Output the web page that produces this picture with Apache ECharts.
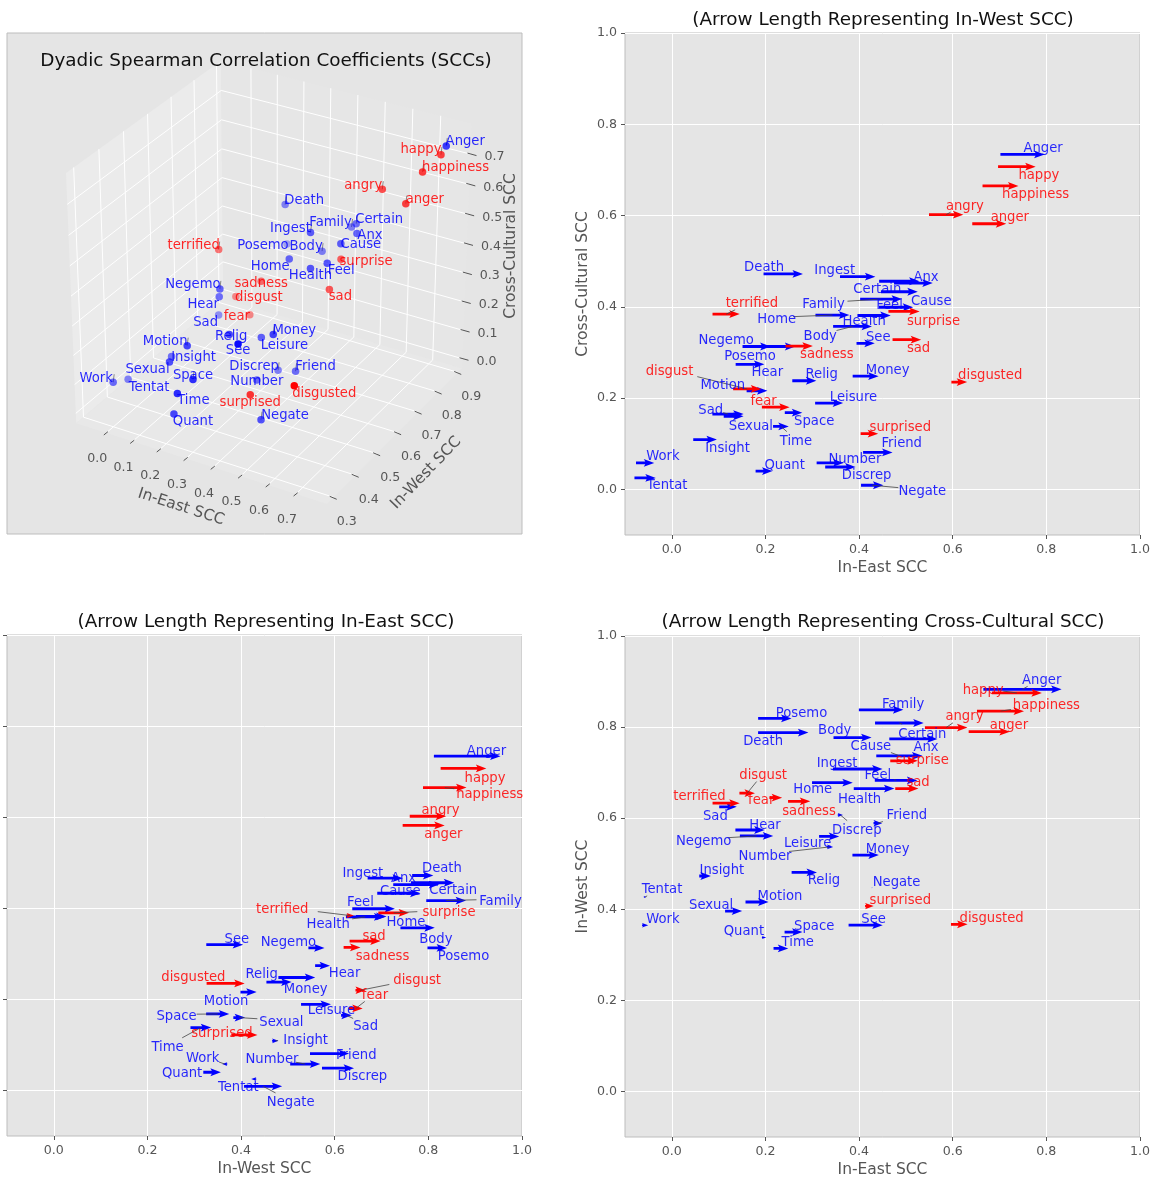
<!DOCTYPE html>
<html><head><meta charset="utf-8">
<script src="https://cdn.jsdelivr.net/npm/echarts@6/dist/echarts.min.js"></script>
<style>html,body{margin:0;padding:0;background:#fff}#c{width:1156px;height:1182px}</style></head>
<body><div id="c"></div>
<script>
// ---------- data ----------
const blueWords = ['Anger','Death','Ingest','Anx','Certain','Cause','Family','Feel','Home','Health','Body','See','Negemo','Posemo','Hear','Relig','Money','Motion','Leisure','Sad','Space','Sexual','Time','Insight','Work','Tentat','Quant','Number','Discrep','Friend','Negate'];
const blueEast  = [.749,.238,.397,.516,.486,.486,.447,.479,.343,.432,.386,.414,.181,.22,.167,.283,.414,.182,.336,.12,.26,.132,.233,.071,-.057,-.057,.197,.338,.36,.44,.428];
const blueWest  = [.883,.788,.708,.774,.809,.737,.838,.683,.678,.665,.777,.365,.561,.819,.574,.481,.519,.416,.56,.625,.35,.396,.314,.473,.365,.427,.338,.537,.607,.589,.447];
const blueCross = [.734,.472,.466,.452,.456,.433,.417,.399,.382,.381,.357,.32,.313,.313,.274,.238,.248,.216,.189,.165,.168,.16,.138,.109,.058,.025,.04,.058,.049,.081,.009];
const redWords = ['happy','happiness','angry','anger','terrified','surprise','sad','sadness','disgust','fear','disgusted','surprised'];
const redEast  = [.737,.702,.586,.678,.116,.496,.502,.272,.161,.222,.614,.422];
const redWest  = [.875,.835,.799,.79,.633,.726,.665,.637,.655,.645,.367,.407];
const redCross = [.707,.665,.602,.582,.384,.39,.328,.314,.22,.18,.235,.122];
const tickValues = [0,.2,.4,.6,.8,1];
const ticks3dEast = [0,.1,.2,.3,.4,.5,.6,.7];
const ticks3dWest = [.3,.4,.5,.6,.7,.8,.9];
const ticks3dCross = [0,.1,.2,.3,.4,.5,.6,.7];

// ---------- label layout (in each panel's axis units) ----------
const labelsP2 = {Negate:[.535,-.001],Discrep:[.416,.034],Number:[.391,.069],Quant:[.241,.056],Tentat:[-.01,.012],Work:[-.019,.076],Insight:[.119,.093],Friend:[.491,.105],surprised:[.488,.139],Time:[.265,.109],Sexual:[.169,.142],Sad:[.083,.176],Space:[.304,.153],fear:[.196,.196],Leisure:[.388,.206],Motion:[.109,.231],disgust:[-.005,.262],Hear:[.204,.261],Relig:[.32,.255],Money:[.461,.265],disgusted:[.68,.253],Posemo:[.167,.296],sadness:[.331,.30],Negemo:[.116,.331],Body:[.317,.339],See:[.441,.336],sad:[.527,.312],surprise:[.559,.372],Health:[.411,.371],Home:[.224,.377],terrified:[.171,.411],Family:[.324,.409],Feel:[.465,.407],Cause:[.554,.415],Certain:[.439,.443],Anx:[.543,.468],Ingest:[.348,.484],Death:[.197,.49],anger:[.722,.599],angry:[.626,.625],happiness:[.777,.65],happy:[.784,.691],Anger:[.793,.752]};
const labelsP3 = {See:[.391,.335],Negemo:[.501,.33],sad:[.684,.342],sadness:[.702,.299],Body:[.816,.335],Posemo:[.875,.298],Hear:[.621,.262],Relig:[.444,.258],disgusted:[.298,.253],Money:[.538,.226],disgust:[.776,.245],fear:[.686,.213],Motion:[.368,.2],Leisure:[.593,.18],Space:[.262,.167],Sexual:[.486,.154],Sad:[.666,.145],surprised:[.359,.129],Time:[.243,.098],Insight:[.538,.114],Friend:[.646,.08],Work:[.318,.075],Number:[.466,.072],Quant:[.274,.041],Discrep:[.659,.034],Tentat:[.394,.01],Negate:[.506,-.023],Anger:[.924,.748],happy:[.921,.689],happiness:[.931,.653],angry:[.826,.618],anger:[.832,.566],Death:[.829,.491],Ingest:[.66,.481],Anx:[.747,.469],Cause:[.74,.442],Certain:[.853,.443],Feel:[.655,.418],Family:[.954,.42],terrified:[.488,.402],surprise:[.844,.396],Health:[.586,.369],Home:[.752,.374]};
const labelsP4 = {Anger:[.79,.907],happy:[.665,.885],happiness:[.80,.851],Family:[.494,.854],Posemo:[.277,.835],angry:[.625,.827],anger:[.72,.807],Body:[.348,.796],Certain:[.535,.789],Death:[.195,.773],Anx:[.543,.76],Cause:[.425,.761],surprise:[.535,.73],Ingest:[.353,.724],Feel:[.44,.697],sad:[.526,.682],disgust:[.195,.698],Home:[.301,.667],Health:[.401,.645],fear:[.191,.644],sadness:[.293,.618],terrified:[.059,.651],Sad:[.093,.609],Friend:[.502,.61],Discrep:[.395,.577],Hear:[.199,.589],Negemo:[.068,.554],Leisure:[.29,.549],Number:[.199,.521],Money:[.461,.536],Insight:[.107,.489],Relig:[.325,.467],Negate:[.48,.464],Tentat:[-.021,.447],Motion:[.231,.432],surprised:[.488,.424],Sexual:[.084,.413],See:[.431,.382],disgusted:[.683,.384],Work:[-.019,.381],Space:[.304,.367],Quant:[.154,.355],Time:[.269,.331]};
const connP2 = ['terrified','Family','Home','Body','disgust','Sexual','Time','Number','Negate','Certain','fear','angry','Sad','Health','Feel'];
const connP3 = ['terrified','Family','surprise','Health','Space','Sexual','Time','surprised','Negate','disgust','fear','Sad','Insight','Work','Number','Tentat','happiness'];
const connP4 = ['Anger','happy','disgust','Discrep','Friend','Negemo','Leisure','Number','Tentat','Quant','angry','Certain','Cause','happiness','surprise','Feel'];
const labels3d = {Anger:[19,-6],happy:[-20,-7],happiness:[33,-7],angry:[-19,-6],anger:[19,-6],Death:[19,-6],Certain:[23,-6],Family:[-21,-6],Ingest:[-20,-6],Anx:[13,0],Cause:[20,-1],Body:[-16,-7],Posemo:[-24,0],terrified:[-25,-6],surprise:[25,0],Home:[-19,6],Feel:[14,5],Health:[0,5],Negemo:[-27,-6],sadness:[0,0],disgust:[23,-1],sad:[11,5],Hear:[-16,6],fear:[-13,0],Sad:[-13,6],Money:[21,-6],Leisure:[23,6],Relig:[2,0],Motion:[-22,-6],See:[0,5],Insight:[22,-1],Sexual:[-22,6],Space:[0,-6],Work:[-17,-6],Tentat:[21,6],Discrep:[-24,-6],Friend:[20,-7],Number:[0,0],disgusted:[30,6],Time:[16,5],surprised:[0,6],Quant:[19,6],Negate:[24,-6]};
const ticks3dWords = ['Anger','happy','happiness','angry','anger','Death','Certain','Family','Ingest','Body','terrified','Negemo','Money','Motion','Work','Discrep','Friend','Negate','Space'];

// ---------- styles ----------
const FONT = '"DejaVu Sans"';
const BLUE_TXT = 'rgba(0,0,255,.84)', RED_TXT = 'rgba(255,0,0,.84)';
const LSIZE = 13.2, LABEL_DY = 2, TICK = '#555555', TICKSIZE = 12.6;
const scales = {p2:{blue:50,red:43}, p3:{blue:89,red:62}, p4:{blue:106.6,red:70.7}};
const panels = {
  p1:{left:7,top:33,width:515,height:501},
  p2:{left:625,top:33,width:515,height:502},
  p3:{left:7,top:635,width:515,height:501},
  p4:{left:625,top:636,width:515,height:501}
};

// ---------- mplot3d projection ----------
const limE=[-.115,.81], limW=[.27,.92], limC=[-.035,.80];
const elev=30*Math.PI/180, azim=-60*Math.PI/180, dist=10;
const eye=[.5+Math.cos(azim)*Math.cos(elev)*dist,.5+Math.sin(azim)*Math.cos(elev)*dist,.5+Math.sin(elev)*dist];
const nrm=v=>{const l=Math.hypot(...v);return v.map(a=>a/l)};
const cross3=(a,b)=>[a[1]*b[2]-a[2]*b[1],a[2]*b[0]-a[0]*b[2],a[0]*b[1]-a[1]*b[0]];
const dot3=(a,b)=>a[0]*b[0]+a[1]*b[1]+a[2]*b[2];
const vn=nrm([eye[0]-.5,eye[1]-.5,eye[2]-.5]), vu=nrm(cross3([0,0,1],vn)), vv=cross3(vn,vu);
function proj(e,w,c){
  const p=[(e-limE[0])/(limE[1]-limE[0])-eye[0],(w-limW[0])/(limW[1]-limW[0])-eye[1],(c-limC[0])/(limC[1]-limC[0])-eye[2]];
  const d=-dot3(p,vn);
  return [dot3(p,vu)/d,dot3(p,vv)/d,d];
}
// pixel anchors of two box corners fix the hidden axes' ranges
const pE=proj(limE[0],limW[0],limC[1]), pB=proj(limE[1],limW[0],limC[0]);
const anchorE=[66,173], anchorB=[327,504];
const sx=(anchorB[0]-anchorE[0])/(pB[0]-pE[0]), sy=(anchorB[1]-anchorE[1])/(pE[1]-pB[1]);
const x3min=pE[0]+(panels.p1.left-anchorE[0])/sx, x3max=x3min+panels.p1.width/sx;
const y3max=pE[1]+(anchorE[1]-panels.p1.top)/sy, y3min=y3max-panels.p1.height/sy;

const allWords=blueWords.concat(redWords), allEast=blueEast.concat(redEast), allWest=blueWest.concat(redWest), allCross=blueCross.concat(redCross);
const isRed=i=>i>=blueWords.length;
const pts3=allWords.map((n,i)=>proj(allEast[i],allWest[i],allCross[i]));
const dMin=Math.min(...pts3.map(p=>p[2])), dMax=Math.max(...pts3.map(p=>p[2]));

// ---------- helpers ----------
function arrowSeries(grid,words,xs,ys,lens,scale,color){
  return {type:'custom',xAxisIndex:grid,yAxisIndex:grid,silent:true,z:color==='#ff0000'?4:3,encode:{x:0,y:1},
    data:words.map((n,i)=>[xs[i],ys[i],lens[i]]),
    renderItem(p,api){
      const c=api.coord([api.value(0),api.value(1)]), L=api.value(2)*scale;
      const a=Math.abs(L), sg=L<0?-1:1, s=Math.min(1,a/10.5);
      const hl=10.5*s,hal=9*s,hw=3.9*s,sw=1.4*s;
      const pts=[[-a/2,-sw],[a/2-hal,-sw],[a/2-hl,-hw],[a/2,0],[a/2-hl,hw],[a/2-hal,sw],[-a/2,sw]].map(q=>[c[0]+sg*q[0],c[1]+q[1]]);
      return {type:'polygon',shape:{points:pts},style:{fill:color}};
    }};
}
function labelSeries(grid,table){
  const names=allWords.filter(n=>table[n]);
  return {type:'custom',xAxisIndex:grid,yAxisIndex:grid,silent:true,z:6,encode:{x:0,y:1},
    data:names.map(n=>[table[n][0],table[n][1]]),
    renderItem(p,api){
      const c=api.coord([api.value(0),api.value(1)]), n=names[p.dataIndex];
      return {type:'text',x:c[0],y:c[1]+LABEL_DY,style:{text:n,fill:isRed(allWords.indexOf(n))?RED_TXT:BLUE_TXT,font:LSIZE+'px '+FONT,align:'center',verticalAlign:'middle'}};
    }};
}
function connSeries(grid,table,names,xs,ys){
  return {type:'custom',xAxisIndex:grid,yAxisIndex:grid,silent:true,z:5,encode:{x:0,y:1},
    data:names.map(n=>{const i=allWords.indexOf(n);return [table[n][0],table[n][1],xs[i],ys[i]];}),
    renderItem(p,api){
      const a=api.coord([api.value(0),api.value(1)]), b=api.coord([api.value(2),api.value(3)]);
      const hw=names[p.dataIndex].length*LSIZE*.29+1, hh=8;
      const dx=b[0]-a[0], dy=b[1]-a[1];
      const t=Math.min(dx?hw/Math.abs(dx):9,dy?hh/Math.abs(dy):9);
      if(t>=1) return null;
      return {type:'line',shape:{x1:a[0]+dx*t,y1:a[1]+dy*t,x2:b[0],y2:b[1]},style:{stroke:'#444',lineWidth:.8}};
    }};
}
function axisPair(g,xName,yName,showY){
  return {
    x:{type:'value',gridIndex:g,min:-.1,max:1,name:xName,nameLocation:'middle',nameGap:25,
      nameTextStyle:{color:TICK,fontFamily:FONT,fontSize:15.5},
      axisLine:{show:false,onZero:false},axisTick:{customValues:tickValues,length:4,lineStyle:{color:TICK}},
      axisLabel:{customValues:tickValues,color:TICK,fontFamily:FONT,fontSize:TICKSIZE,margin:8,formatter:v=>v.toFixed(1)},
      splitLine:{show:true,lineStyle:{color:'#fff',width:1}}},
    y:{type:'value',gridIndex:g,min:-.1,max:1,name:yName,nameLocation:'middle',nameGap:34,
      nameTextStyle:{color:TICK,fontFamily:FONT,fontSize:15.5},
      axisLine:{show:false,onZero:false},axisTick:{customValues:tickValues,length:4,lineStyle:{color:TICK}},
      axisLabel:{show:showY,customValues:tickValues,color:TICK,fontFamily:FONT,fontSize:TICKSIZE,margin:8,formatter:v=>v.toFixed(1)},
      splitLine:{show:true,lineStyle:{color:'#fff',width:1}}}
  };
}

// ---------- 3D panel pieces ----------
function poly3(fill,corners){return {corners,fill};}
const walls=[
  poly3('#ebebeb',[[limE[0],limW[0],limC[0]],[limE[0],limW[1],limC[0]],[limE[0],limW[1],limC[1]],[limE[0],limW[0],limC[1]]]),
  poly3('#e6e6e6',[[limE[0],limW[1],limC[0]],[limE[1],limW[1],limC[0]],[limE[1],limW[1],limC[1]],[limE[0],limW[1],limC[1]]]),
  poly3('#e8e8e8',[[limE[0],limW[0],limC[0]],[limE[1],limW[0],limC[0]],[limE[1],limW[1],limC[0]],[limE[0],limW[1],limC[0]]])
];
const segs3=[];
ticks3dEast.forEach(e=>{segs3.push([[e,limW[0],limC[0]],[e,limW[1],limC[0]],[e,limW[1],limC[1]]]);});
ticks3dWest.forEach(w=>{segs3.push([[limE[1],w,limC[0]],[limE[0],w,limC[0]],[limE[0],w,limC[1]]]);});
ticks3dCross.forEach(c=>{segs3.push([[limE[0],limW[0],c],[limE[0],limW[1],c],[limE[1],limW[1],c]]);});
const tickMarks3=[];
ticks3dEast.forEach(v=>tickMarks3.push({p:[v,limW[0],limC[0]],d:[1.7,-1.3,-2.4,2],t:v.toFixed(1),o:[-9,26]}));
ticks3dWest.forEach(v=>tickMarks3.push({p:[limE[1],v,limC[0]],d:[-4,-1,3,2],t:v.toFixed(1),o:[13,24]}));
ticks3dCross.forEach(v=>tickMarks3.push({p:[limE[1],limW[1],v],d:[-3,-1,6,1.5],t:v.toFixed(1),o:[24,3]}));

const pa=axisPair(1,'In-East SCC','Cross-Cultural SCC',true),
      pb=axisPair(2,'In-West SCC','',false),
      pc=axisPair(3,'In-East SCC','In-West SCC',true);

const series=[
  {type:'custom',xAxisIndex:0,yAxisIndex:0,silent:true,z:1,data:walls.map((w,i)=>[i]),
   renderItem(p,api){const w=walls[p.dataIndex];return {type:'polygon',shape:{points:w.corners.map(q=>{const r=proj(...q);return api.coord([r[0],r[1]]);})},style:{fill:w.fill}};}},
  {type:'custom',xAxisIndex:0,yAxisIndex:0,silent:true,z:2,data:segs3.map((s,i)=>[i]),
   renderItem(p,api){const s=segs3[p.dataIndex];return {type:'polyline',shape:{points:s.map(q=>{const r=proj(...q);return api.coord([r[0],r[1]]);})},style:{stroke:'#fff',lineWidth:1,fill:null}};}},
  {type:'custom',xAxisIndex:0,yAxisIndex:0,silent:true,z:2,data:tickMarks3.map((s,i)=>[i]),
   renderItem(p,api){const m=tickMarks3[p.dataIndex],r=proj(...m.p),c=api.coord([r[0],r[1]]);
     return {type:'group',children:[
       {type:'line',shape:{x1:c[0]+m.d[0],y1:c[1]+m.d[1],x2:c[0]+m.d[2],y2:c[1]+m.d[3]},style:{stroke:TICK,lineWidth:1}},
       {type:'text',x:c[0]+m.o[0],y:c[1]+m.o[1],style:{text:m.t,fill:TICK,font:TICKSIZE+'px '+FONT,align:'center',verticalAlign:'middle'}}]};}},
  {type:'custom',xAxisIndex:0,yAxisIndex:0,silent:true,z:3,data:ticks3dWords.map((s,i)=>[i]),
   renderItem(p,api){const r=pts3[allWords.indexOf(ticks3dWords[p.dataIndex])],c=api.coord([r[0],r[1]]);
     return {type:'line',shape:{x1:c[0],y1:c[1],x2:c[0]+1,y2:c[1]-8},style:{stroke:'#888',lineWidth:1}};}},
  {type:'scatter',xAxisIndex:0,yAxisIndex:0,silent:true,z:4,symbolSize:7.5,
   data:allWords.map((n,i)=>({value:[pts3[i][0],pts3[i][1]],itemStyle:{color:isRed(i)?'#ff0000':'#0000ff',opacity:1-.7*(pts3[i][2]-dMin)/(dMax-dMin)}}))},
  {type:'custom',xAxisIndex:0,yAxisIndex:0,silent:true,z:6,data:allWords.filter(n=>labels3d[n]).map((n,i)=>[i]),
   renderItem(p,api){const i=p.dataIndex,n=allWords[i],r=pts3[i],c=api.coord([r[0],r[1]]),o=labels3d[n];
     return {type:'text',x:c[0]+o[0],y:c[1]+o[1]+LABEL_DY,style:{text:n,fill:isRed(i)?RED_TXT:BLUE_TXT,font:LSIZE+'px '+FONT,align:'center',verticalAlign:'middle'}};}},
  // panel 2: x east, y cross, length west
  arrowSeries(1,blueWords,blueEast,blueCross,blueWest,scales.p2.blue,'#0000ff'),
  arrowSeries(1,redWords,redEast,redCross,redWest,scales.p2.red,'#ff0000'),
  connSeries(1,labelsP2,connP2,allEast,allCross),
  labelSeries(1,labelsP2),
  // panel 3: x west, y cross, length east
  arrowSeries(2,blueWords,blueWest,blueCross,blueEast,scales.p3.blue,'#0000ff'),
  arrowSeries(2,redWords,redWest,redCross,redEast,scales.p3.red,'#ff0000'),
  connSeries(2,labelsP3,connP3,allWest,allCross),
  labelSeries(2,labelsP3),
  // panel 4: x east, y west, length cross
  arrowSeries(3,blueWords,blueEast,blueWest,blueCross,scales.p4.blue,'#0000ff'),
  arrowSeries(3,redWords,redEast,redWest,redCross,scales.p4.red,'#ff0000'),
  connSeries(3,labelsP4,connP4,allEast,allWest),
  labelSeries(3,labelsP4)
];

const gridOf=(p)=>({left:p.left,top:p.top,width:p.width,height:p.height,show:true,backgroundColor:'#E5E5E5',borderColor:'#bdbdbd',borderWidth:1,containLabel:false});
const titleStyle={color:'#111',fontFamily:FONT,fontSize:18.4,fontWeight:'normal'};
const chart=echarts.init(document.getElementById('c'),null,{renderer:'canvas'});
chart.setOption({
  animation:false,backgroundColor:'#fff',
  title:[
    {text:'Dyadic Spearman Correlation Coefficients (SCCs)',left:261,top:47,textAlign:'center',textStyle:titleStyle},
    {text:'(Arrow Length Representing In-West SCC)',left:878,top:6,textAlign:'center',textStyle:titleStyle},
    {text:'(Arrow Length Representing In-East SCC)',left:261,top:608,textAlign:'center',textStyle:titleStyle},
    {text:'(Arrow Length Representing Cross-Cultural SCC)',left:878,top:608,textAlign:'center',textStyle:titleStyle}
  ],
  grid:[gridOf(panels.p1),gridOf(panels.p2),gridOf(panels.p3),gridOf(panels.p4)],
  xAxis:[{type:'value',gridIndex:0,min:x3min,max:x3max,show:false},pa.x,pb.x,pc.x],
  yAxis:[{type:'value',gridIndex:0,min:y3min,max:y3max,show:false},pa.y,pb.y,pc.y],
  graphic:[
    {type:'text',x:181,y:507,rotation:-18*Math.PI/180,style:{text:'In-East SCC',fill:TICK,font:'15.5px '+FONT,align:'center',verticalAlign:'middle'}},
    {type:'text',x:426,y:473,rotation:46*Math.PI/180,style:{text:'In-West SCC',fill:TICK,font:'15.5px '+FONT,align:'center',verticalAlign:'middle'}},
    {type:'text',x:511,y:246,rotation:Math.PI/2,style:{text:'Cross-Cultural SCC',fill:TICK,font:'15.5px '+FONT,align:'center',verticalAlign:'middle'}}
  ],
  series
});
</script></body></html>
